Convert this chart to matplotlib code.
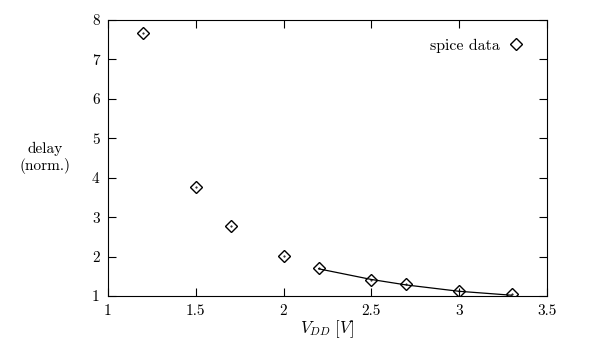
import matplotlib
matplotlib.use("Agg")
import matplotlib.pyplot as plt

plt.rcParams["font.family"] = "serif"
plt.rcParams["font.serif"] = ["cmr10", "DejaVu Serif"]
plt.rcParams["mathtext.fontset"] = "cm"
plt.rcParams["axes.formatter.use_mathtext"] = True

# spice simulation points
vdd = [1.2, 1.5, 1.7, 2.0, 2.2, 2.5, 2.7, 3.0, 3.3]
delay = [7.67, 3.77, 2.78, 2.02, 1.72, 1.41, 1.30, 1.13, 1.04]

# fitted curve (upper voltage range)
fit_v = [2.2, 2.5, 2.7, 3.0, 3.3]
fit_d = [1.69, 1.42, 1.28, 1.12, 1.02]

xticks = [1, 1.5, 2, 2.5, 3, 3.5]
xticklabels = ["1", "1.5", "2", "2.5", "3", "3.5"]
yticks = [1, 2, 3, 4, 5, 6, 7, 8]

fig = plt.figure(figsize=(5.95, 3.54), dpi=100)
ax = fig.add_axes([0.1815, 0.1638, 0.919 - 0.1815, 0.9435 - 0.1638])

ax.plot(fit_v, fit_d, color="black", lw=0.9)
ax.plot(vdd, delay, linestyle="none", marker="D", markersize=6.4,
        markerfacecolor="none", markeredgecolor="black", markeredgewidth=1.0,
        label="spice data")
ax.plot(vdd, delay, linestyle="none", marker=".", markersize=1.0, color="black")

ax.set_xlim(1, 3.5)
ax.set_ylim(1, 8)
ax.set_xticks(xticks)
ax.set_xticklabels(xticklabels)
ax.set_yticks(yticks)
ax.set_yticklabels([str(t) for t in yticks])
ax.tick_params(direction="in", length=6, width=0.8, top=True, right=True,
               labelsize=11, pad=6)
for sp in ax.spines.values():
    sp.set_linewidth(0.8)

ax.set_xlabel(r"$V_{DD}\ [V]$", fontsize=12, labelpad=0)
fig.text(0.076, 0.555, "delay\n(norm.)", ha="center", va="center",
         fontsize=11, linespacing=1.15)

leg = ax.legend(loc="upper right", bbox_to_anchor=(0.962, 0.955),
                frameon=False, markerfirst=False, fontsize=11.5,
                handlelength=1.0, handletextpad=0.5, borderaxespad=0.0)

fig.savefig("out.png", dpi=100)
